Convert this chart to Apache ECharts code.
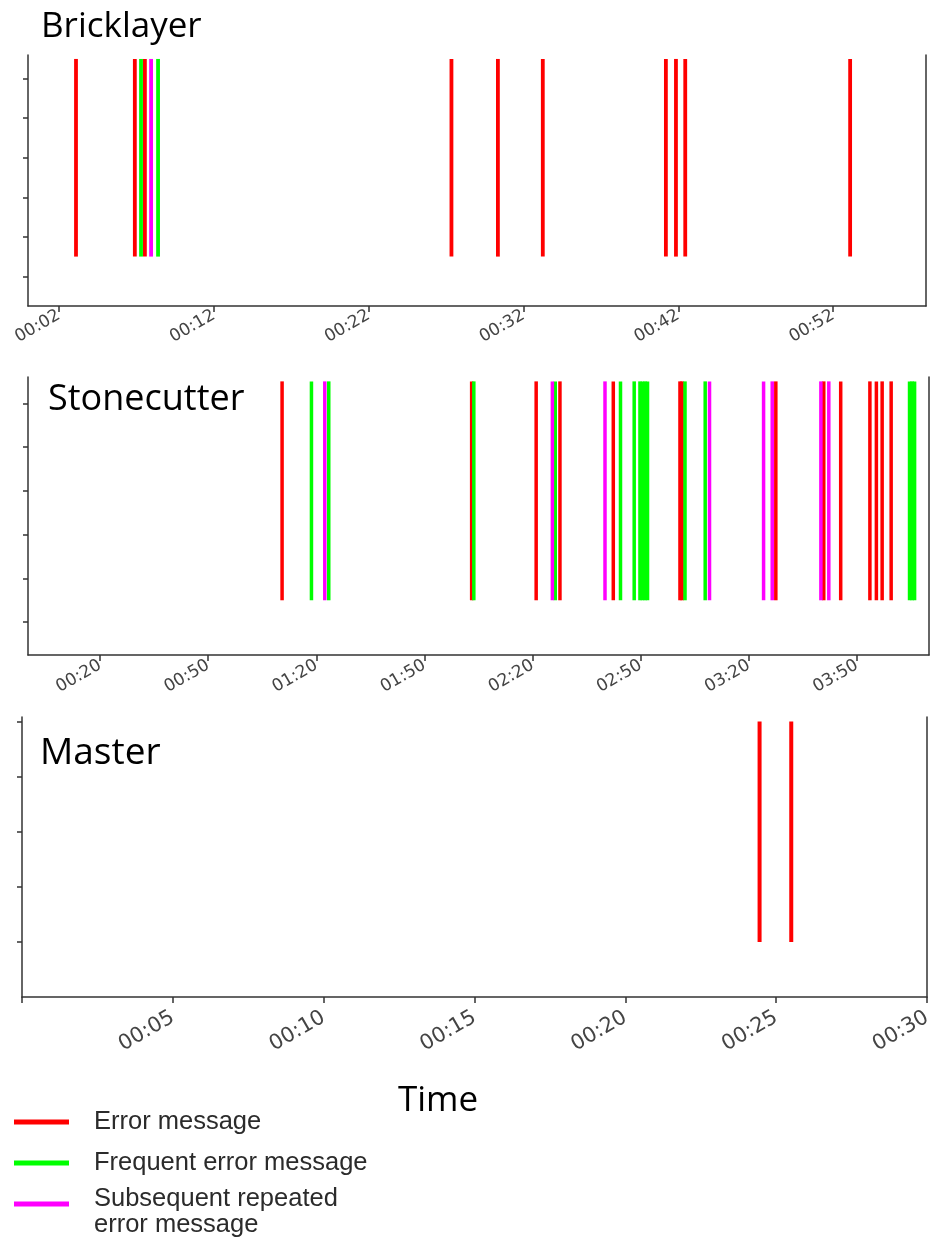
<!DOCTYPE html>
<html>
<head>
<meta charset="utf-8">
<script src="https://cdn.jsdelivr.net/npm/echarts@6/dist/echarts.min.js"></script>
<style>
  html, body { margin: 0; padding: 0; background: #ffffff; }
  #chart { width: 930px; height: 1241px; }
</style>
</head>
<body>
<div id="chart"></div>
<script>
// Event times (seconds) per worker, split by message type
const bricklayerError    = [3.1, 6.9, 7.55, 27.35, 30.35, 33.25, 41.2, 41.85, 42.45, 53.1];
const bricklayerFrequent = [7.3, 8.4];
const bricklayerRepeated = [7.95];

const stonecutterError    = [70.5, 123.1, 141.0, 147.6, 162.4, 180.9, 181.5, 207.5, 220.8, 225.5, 233.6, 235.4, 237.0, 239.5];
const stonecutterFrequent = [78.65, 83.45, 123.7, 146.3, 164.4, 168.2, 169.8, 170.5, 171.2, 171.9, 182.3, 187.9, 244.6, 245.3, 246.0];
const stonecutterRepeated = [82.35, 145.5, 160.1, 189.1, 204.1, 206.5, 220.0, 222.2];

const masterError = [24.45, 25.5];

// Time axis ranges and tick positions (seconds)
const bricklayerRange  = [0, 58];
const stonecutterRange = [0, 250];
const masterRange      = [0, 30];
const bricklayerTicks  = [2, 12, 22, 32, 42, 52];
const stonecutterTicks = [20, 50, 80, 110, 140, 170, 200, 230];
const masterTicks      = [0, 5, 10, 15, 20, 25, 30];
const masterLabels     = [5, 10, 15, 20, 25, 30];

// Vertical event line placement (line offset and length in y units)
const EVENT_OFFSET = 1;
const EVENT_LENGTH = 1;
const yRange = [0.25, 1.52];
const yTicksUpper = [0.4, 0.6, 0.8, 1.0, 1.2, 1.4];
const yTicksMaster = [0.5, 0.75, 1.0, 1.25, 1.5];

const typeNames = ['Error message', 'Frequent error message', 'Subsequent repeated error message'];
const typeColors = ['#ff0000', '#00ff00', '#ff00ff'];

const AXIS_COLOR = '#333333';

function mmss(v) {
  const s = Math.round(v);
  const m = Math.floor(s / 60);
  const r = s % 60;
  return String(m).padStart(2, '0') + ':' + String(r).padStart(2, '0');
}

function xAxisFor(gridIndex, range, ticks, labels, fontSize, margin) {
  return {
    type: 'value', gridIndex: gridIndex, min: range[0], max: range[1],
    axisLine: { show: true, onZero: false, lineStyle: { color: AXIS_COLOR, width: 1.5 } },
    axisTick: { show: true, customValues: ticks, length: 6, lineStyle: { color: AXIS_COLOR, width: 1.5 } },
    axisLabel: {
      customValues: labels, rotate: 30, margin: margin, formatter: mmss,
      fontFamily: 'DejaVu Sans', fontSize: fontSize, color: '#444444'
    },
    splitLine: { show: false }
  };
}

function yAxesFor(gridIndex, ticks) {
  return [
    {
      type: 'value', gridIndex: gridIndex, min: yRange[0], max: yRange[1], position: 'left',
      axisLine: { show: true, onZero: false, lineStyle: { color: AXIS_COLOR, width: 1.5 } },
      axisTick: { show: true, customValues: ticks, length: 5, lineStyle: { color: AXIS_COLOR, width: 1.5 } },
      axisLabel: { show: false },
      splitLine: { show: false }
    },
    {
      type: 'value', gridIndex: gridIndex, min: yRange[0], max: yRange[1], position: 'right',
      axisLine: { show: true, onZero: false, lineStyle: { color: AXIS_COLOR, width: 1.5 } },
      axisTick: { show: false }, axisLabel: { show: false }, splitLine: { show: false }
    }
  ];
}

function eventSeries(typeIndex, gridIndex, times, lineWidth) {
  return {
    type: 'custom',
    name: typeNames[typeIndex],
    xAxisIndex: gridIndex,
    yAxisIndex: gridIndex * 2,
    data: times.map(function (t) { return [t, EVENT_OFFSET]; }),
    encode: { x: 0, y: 1 },
    itemStyle: { color: typeColors[typeIndex] },
    clip: true,
    renderItem: function (params, api) {
      const t = api.value(0);
      const off = api.value(1);
      const top = api.coord([t, off + EVENT_LENGTH / 2]);
      const bottom = api.coord([t, off - EVENT_LENGTH / 2]);
      return {
        type: 'line',
        shape: { x1: top[0], y1: top[1], x2: bottom[0], y2: bottom[1] },
        style: { stroke: api.visual('color'), lineWidth: lineWidth, lineCap: 'butt' }
      };
    }
  };
}

const legendText = {
  fontFamily: 'Liberation Sans', fontSize: 25.5, color: '#2b2b2b', lineHeight: 26,
  padding: [0, 0, 0, 20]
};
function legendFor(name, top, extra) {
  return Object.assign({
    data: [name], orient: 'vertical', left: 14, top: top, padding: 0,
    icon: 'rect', itemWidth: 55, itemHeight: 5,
    textStyle: legendText
  }, extra || {});
}

function titleAt(text, left, top, size) {
  return {
    text: text, left: left, top: top, padding: 0,
    textStyle: { fontFamily: 'Open Sans', fontSize: size, fontWeight: 'normal', color: '#000000' }
  };
}

const chart = echarts.init(document.getElementById('chart'), null, { renderer: 'canvas' });

chart.setOption({
  animation: false,
  backgroundColor: '#ffffff',
  title: [
    titleAt('Bricklayer', 41, 10, 35),
    titleAt('Stonecutter', 48, 382, 36),
    titleAt('Master', 40, 735, 37),
    titleAt('Time', 398, 1084, 35)
  ],
  legend: [
    legendFor(typeNames[0], 1109),
    legendFor(typeNames[1], 1150),
    legendFor(typeNames[2], 1170, {
      // small spacer line on top keeps the swatch level with the first text line
      formatter: function () { return '{s| }\nSubsequent repeated\nerror message'; },
      textStyle: Object.assign({}, legendText, {
        rich: { s: { fontSize: 2, lineHeight: 16 } }
      })
    })
  ],
  grid: [
    { left: 28, top: 55, width: 898, height: 251, outerBoundsMode: 'none' },
    { left: 28, top: 377, width: 901, height: 278, outerBoundsMode: 'none' },
    { left: 22, top: 717, width: 905, height: 280, outerBoundsMode: 'none' }
  ],
  xAxis: [
    xAxisFor(0, bricklayerRange, bricklayerTicks, bricklayerTicks, 17, 8),
    xAxisFor(1, stonecutterRange, stonecutterTicks, stonecutterTicks, 17, 9),
    xAxisFor(2, masterRange, masterTicks, masterLabels, 21, 19)
  ],
  yAxis: [].concat(
    yAxesFor(0, yTicksUpper),
    yAxesFor(1, yTicksUpper),
    yAxesFor(2, yTicksMaster)
  ),
  series: [
    eventSeries(0, 0, bricklayerError, 3.8),
    eventSeries(1, 0, bricklayerFrequent, 3.8),
    eventSeries(2, 0, bricklayerRepeated, 3.8),
    eventSeries(0, 1, stonecutterError, 3.5),
    eventSeries(1, 1, stonecutterFrequent, 3.5),
    eventSeries(2, 1, stonecutterRepeated, 3.5),
    eventSeries(0, 2, masterError, 4)
  ]
});
</script>
</body>
</html>
